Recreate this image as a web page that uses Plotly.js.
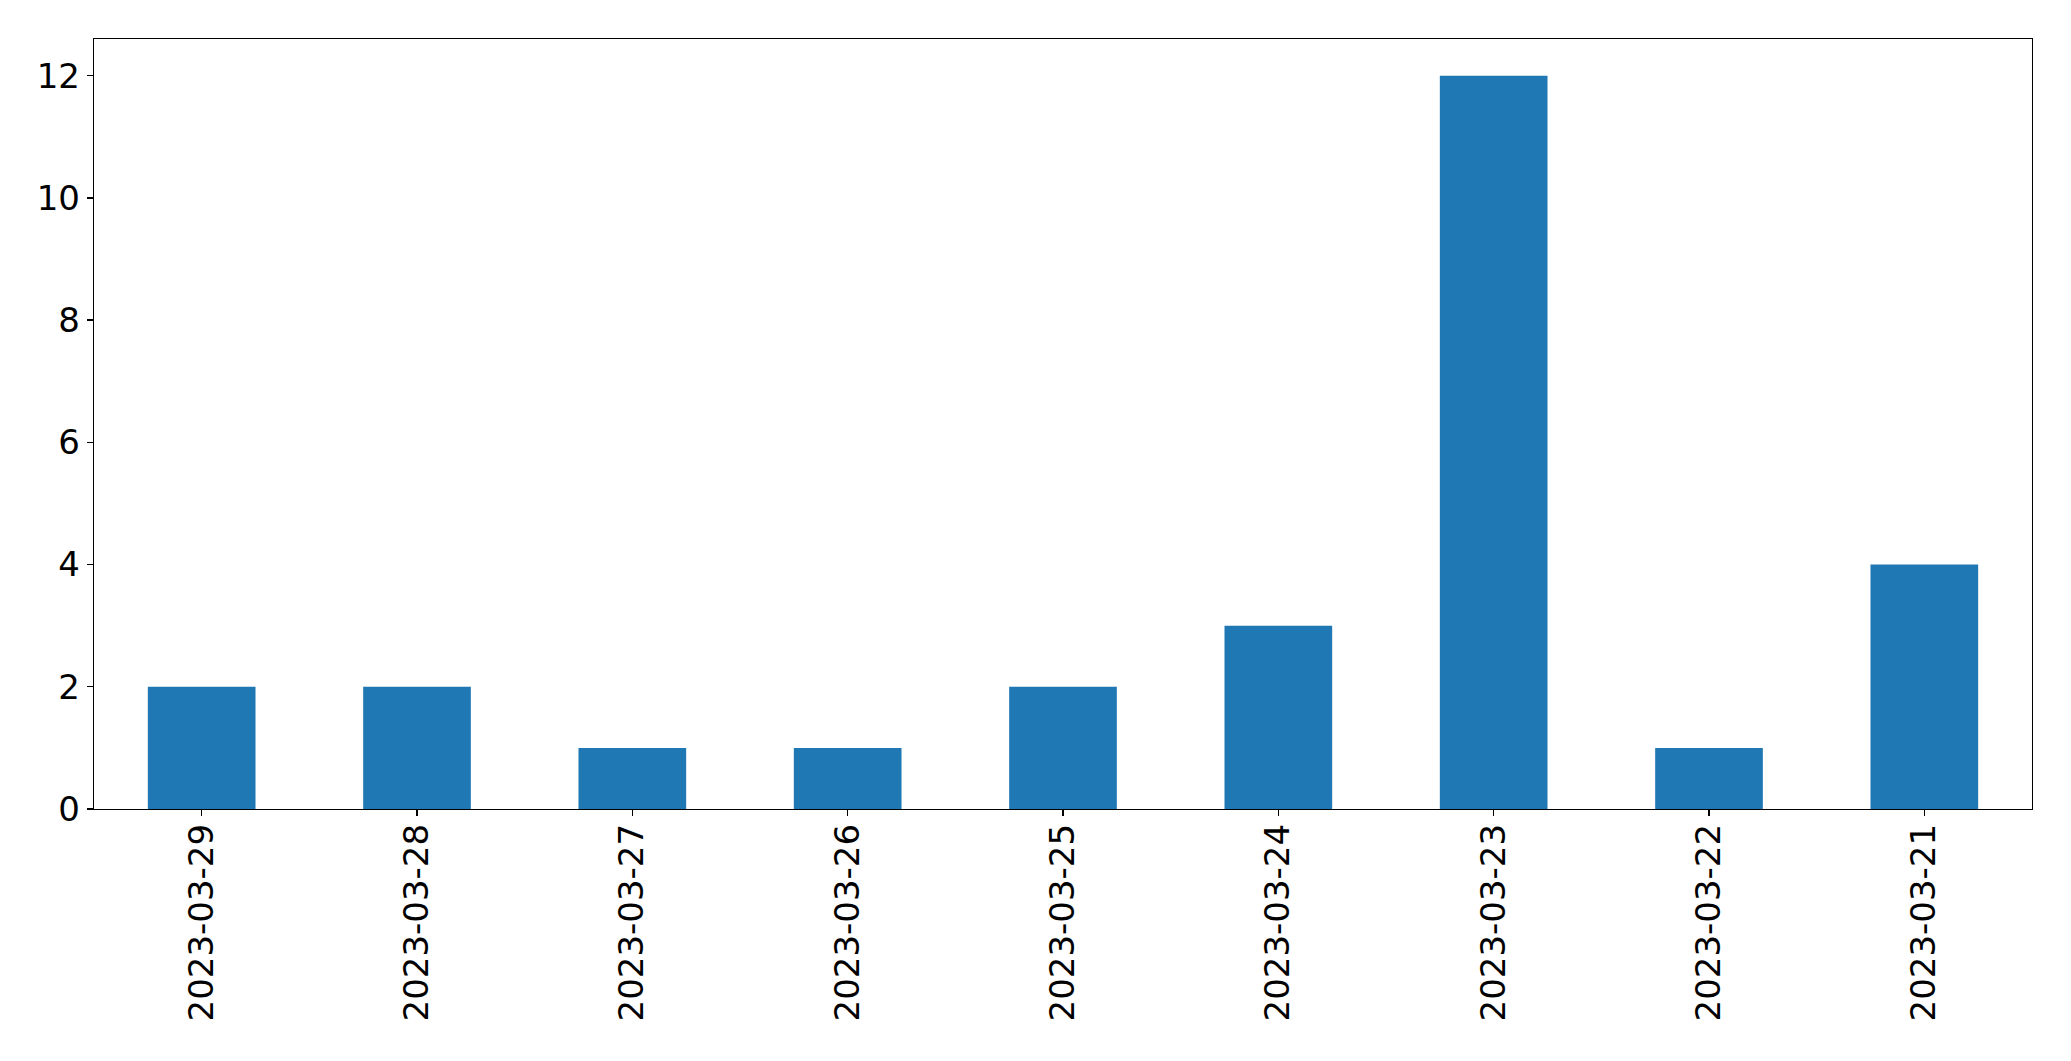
<!DOCTYPE html>
<html>
<head>
<meta charset="utf-8">
<script src="https://cdn.plot.ly/plotly-3.0.1.min.js"></script>
<style>html,body{margin:0;padding:0;background:#fff;}#chart{width:2071px;height:1061px;}</style>
</head>
<body>
<div id="chart"></div>
<script>
const dates = ["2023-03-29","2023-03-28","2023-03-27","2023-03-26","2023-03-25","2023-03-24","2023-03-23","2023-03-22","2023-03-21"];
const counts = [2, 2, 1, 1, 2, 3, 12, 1, 4];
const yTicks = [0, 2, 4, 6, 8, 10, 12];

const trace = {
  type: 'bar',
  x: dates,
  y: counts,
  width: 0.5,
  marker: {color: '#1f77b4', line: {width: 0}},
  hoverinfo: 'x+y'
};

const layout = {
  width: 2071, height: 1061,
  margin: {l: 94, r: 39, t: 39, b: 252, pad: 0},
  paper_bgcolor: '#fff', plot_bgcolor: '#fff',
  showlegend: false,
  font: {family: 'DejaVu Sans, sans-serif', size: 34, color: '#000'},
  bargap: 0.5,
  xaxis: {
    type: 'category',
    range: [-0.5, 8.5],
    showgrid: false, zeroline: false,
    showline: true, linecolor: '#000', linewidth: 1.3, mirror: true,
    ticks: 'outside', ticklen: 6, tickwidth: 1.3, tickcolor: '#000',
    tickangle: -90,
    ticklabelstandoff: -6,
    tickfont: {family: 'DejaVu Sans, sans-serif', size: 34, color: '#000'}
  },
  yaxis: {
    range: [0, 12.6],
    tickvals: yTicks,
    ticktext: yTicks.map(String),
    showgrid: false, zeroline: false,
    showline: true, linecolor: '#000', linewidth: 1.3, mirror: true,
    ticks: 'outside', ticklen: 6, tickwidth: 1.3, tickcolor: '#000',
    tickfont: {family: 'DejaVu Sans, sans-serif', size: 34, color: '#000'}
  }
};

Plotly.newPlot('chart', [trace], layout, {displayModeBar: false, staticPlot: true});
</script>
</body>
</html>
